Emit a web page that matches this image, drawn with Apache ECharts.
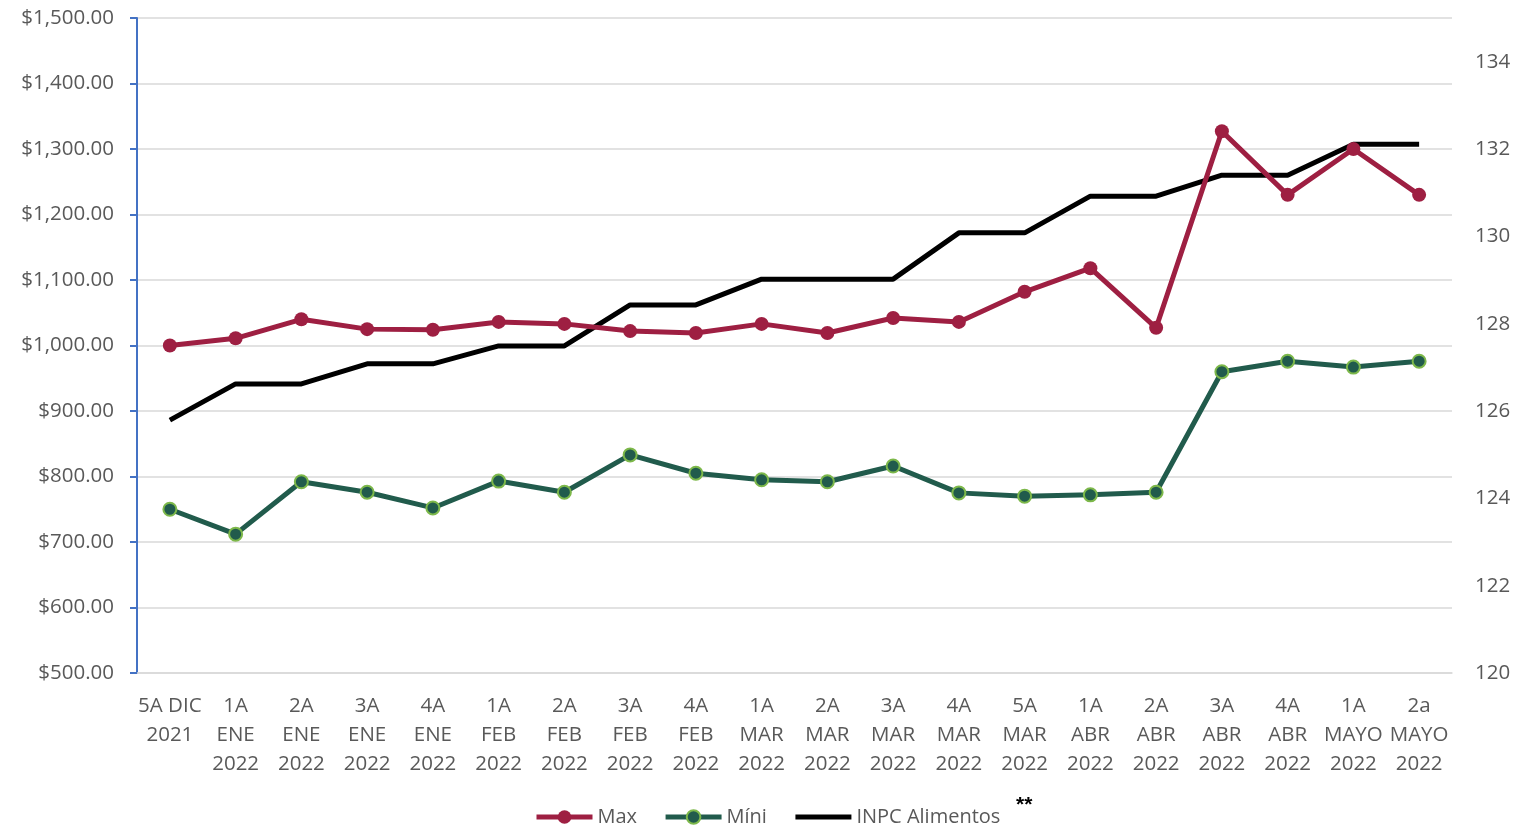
<!DOCTYPE html>
<html>
<head>
<meta charset="utf-8">
<script src="https://cdn.jsdelivr.net/npm/echarts@6/dist/echarts.min.js"></script>
<style>
  html, body { margin: 0; padding: 0; background: #ffffff; }
  #chart { width: 1517px; height: 828px; }
</style>
</head>
<body>
<div id="chart"></div>
<script>
var categories = [
  "5A DIC\n2021", "1A\nENE\n2022", "2A\nENE\n2022", "3A\nENE\n2022", "4A\nENE\n2022",
  "1A\nFEB\n2022", "2A\nFEB\n2022", "3A\nFEB\n2022", "4A\nFEB\n2022", "1A\nMAR\n2022",
  "2A\nMAR\n2022", "3A\nMAR\n2022", "4A\nMAR\n2022", "5A\nMAR\n2022", "1A\nABR\n2022",
  "2A\nABR\n2022", "3A\nABR\n2022", "4A\nABR\n2022", "1A\nMAYO\n2022", "2a\nMAYO\n2022"
];
var maxValues = [1000, 1011, 1040, 1025, 1024, 1036, 1033, 1022, 1019, 1033,
                 1019, 1042, 1036, 1082, 1118, 1027, 1327, 1230, 1300, 1230];
var minValues = [750, 712, 792, 776, 752, 793, 776, 833, 805, 795,
                 792, 816, 775, 770, 772, 776, 960, 976, 967, 976];
var inpcValues = [125.79, 126.62, 126.62, 127.08, 127.08, 127.49, 127.49, 128.43, 128.43, 129.02,
                  129.02, 129.02, 130.08, 130.08, 130.92, 130.92, 131.40, 131.40, 132.11, 132.11];

var myChart = echarts.init(document.getElementById("chart"));
var labelColor = "#595959";
var fontFamily = "'Open Sans', 'Noto Sans', sans-serif";

myChart.setOption({
  backgroundColor: "#ffffff",
  textStyle: { fontFamily: fontFamily },
  grid: { left: 137, right: 65, top: 18, bottom: 155 },
  legend: {
    top: 802,
    left: 529,
    itemWidth: 56,
    itemHeight: 17,
    itemGap: 26,
    lineStyle: { width: 5 },
    textStyle: { fontSize: 20, color: labelColor, fontFamily: fontFamily },
    data: [
      { name: "Max" },
      { name: "Míni" },
      { name: "INPC Alimentos", itemStyle: { opacity: 0 } }
    ]
  },
  graphic: [{
    type: "text",
    left: 1016,
    top: 795,
    style: { text: "**", fontSize: 21, fontWeight: "bold", fill: "#000000" }
  }],
  xAxis: {
    type: "category",
    data: categories,
    boundaryGap: true,
    axisLine: { show: true, lineStyle: { color: "#d9d9d9", width: 1.5 } },
    axisTick: { show: false },
    axisLabel: {
      color: labelColor,
      fontSize: 20.5,
      lineHeight: 29,
      margin: 19,
      interval: 0
    }
  },
  yAxis: [{
    type: "value",
    min: 500,
    max: 1500,
    interval: 100,
    axisLine: { show: true, lineStyle: { color: "#4472C4", width: 2 } },
    axisTick: { show: true, length: 7, lineStyle: { color: "#4472C4", width: 2 } },
    splitLine: { lineStyle: { color: "#d9d9d9", width: 1.5 } },
    axisLabel: {
      color: labelColor,
      fontSize: 20.5,
      margin: 23,
      formatter: function (v) {
        return "$" + v.toLocaleString("en-US", { minimumFractionDigits: 2, maximumFractionDigits: 2 });
      }
    }
  }, {
    type: "value",
    min: 120,
    max: 135,
    interval: 2,
    axisLine: { show: false },
    axisTick: { show: false },
    splitLine: { show: false },
    axisLabel: {
      color: labelColor,
      fontSize: 20.5,
      margin: 23,
      showMaxLabel: false
    }
  }],
  series: [{
    name: "Max",
    type: "line",
    data: maxValues,
    yAxisIndex: 0,
    symbol: "circle",
    symbolSize: 14,
    lineStyle: { color: "#9E1F42", width: 5 },
    itemStyle: { color: "#9E1F42" },
    z: 3
  }, {
    name: "Míni",
    type: "line",
    data: minValues,
    yAxisIndex: 0,
    symbol: "circle",
    symbolSize: 13,
    lineStyle: { color: "#215B4C", width: 5 },
    itemStyle: { color: "#215B4C", borderColor: "#7DB84A", borderWidth: 2 },
    z: 3
  }, {
    name: "INPC Alimentos",
    type: "line",
    data: inpcValues,
    yAxisIndex: 1,
    symbol: "none",
    lineStyle: { color: "#000000", width: 5 },
    itemStyle: { color: "#000000" },
    z: 2
  }]
});
</script>
</body>
</html>
